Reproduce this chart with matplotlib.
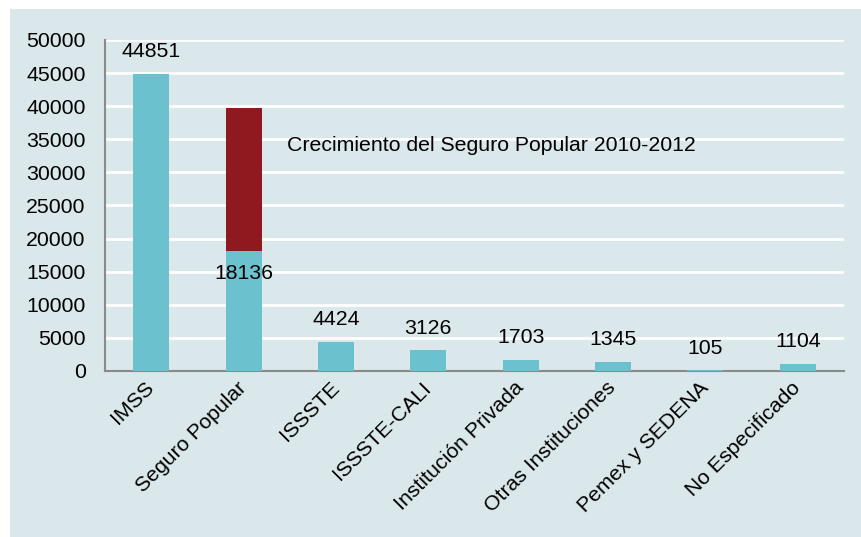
import matplotlib.pyplot as plt
from matplotlib.patches import Rectangle

plt.rcParams['font.family'] = ['Liberation Sans', 'DejaVu Sans']

# data
categorias = ['IMSS', 'Seguro Popular', 'ISSSTE', 'ISSSTE-CALI', 'Institución Privada',
              'Otras Instituciones', 'Pemex y SEDENA', 'No Especificado']
valores = [44851, 18136, 4424, 3126, 1703, 1345, 105, 1104]
crecimiento_sp = [0, 21600, 0, 0, 0, 0, 0, 0]  # increase 2010-2012 (estimated)
nota = 'Crecimiento del Seguro Popular 2010-2012'

fondo = '#dae8eb'
cian = '#6bc1cd'
rojo = '#8f191e'
fs = 15.3

fig = plt.figure(figsize=(8.62, 5.37), dpi=100, facecolor='white')
fig.patches.append(Rectangle((10 / 862, 0), 1, 1 - 9 / 537, transform=fig.transFigure,
                             facecolor=fondo, edgecolor='none', zorder=-10))

ax = fig.add_axes([105 / 862, 166 / 537, 739 / 862, 331 / 537])
ax.set_facecolor(fondo)

x = range(len(categorias))
ax.bar(x, valores, width=0.39, color=cian, zorder=3)
ax.bar(x, crecimiento_sp, width=0.39, bottom=valores, color=rojo, zorder=3)

# value labels
for i, v in enumerate(valores):
    off = -16 if i == 1 else 16
    ax.annotate(str(v), (i, v), xytext=(0, off), textcoords='offset points',
                ha='center', va='center', fontsize=fs, zorder=4)

ax.text(1.47, 34000, nota, ha='left', va='center', fontsize=fs)

ax.set_xlim(-0.5, len(categorias) - 0.5)
ax.set_ylim(0, 50000)
ax.set_yticks(range(0, 50001, 5000))
ax.yaxis.grid(True, color='white', linewidth=2, zorder=1)
ax.set_axisbelow(True)

ax.set_xticks(list(x))
ax.set_xticklabels(categorias, rotation=45, ha='right', va='center',
                   rotation_mode='anchor', fontsize=fs)
ax.tick_params(axis='x', length=0, pad=10)
ax.tick_params(axis='y', length=0, pad=14, labelsize=fs)

for s in ['top', 'right']:
    ax.spines[s].set_visible(False)
for s in ['left', 'bottom']:
    ax.spines[s].set_color('#8a8a8a')
    ax.spines[s].set_linewidth(1.5)

fig.savefig('out.png', dpi=100, facecolor='white')
